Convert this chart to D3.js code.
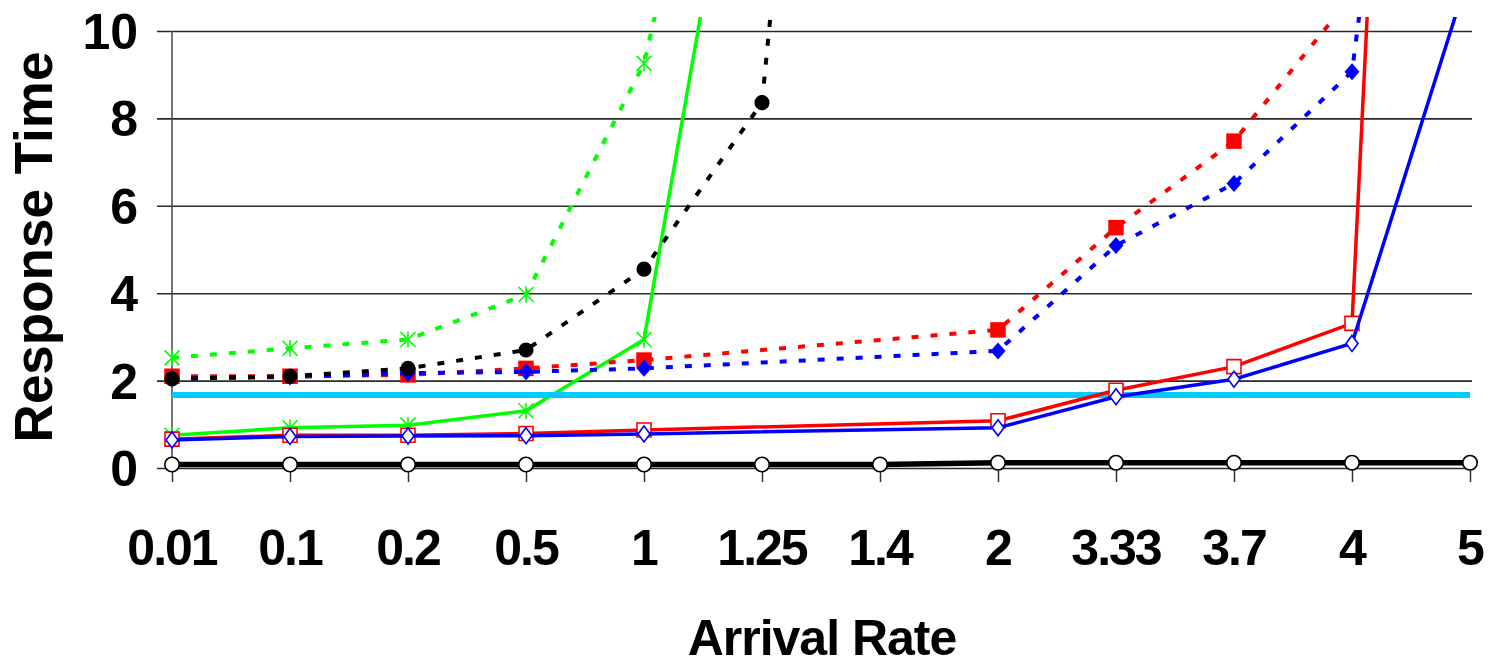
<!DOCTYPE html>
<html>
<head>
<meta charset="utf-8">
<script src="https://cdn.jsdelivr.net/npm/d3@7"></script>
<style>
  body { margin: 0; background: #fff; }
  text { font-family: "Liberation Sans", Arial, sans-serif; font-weight: bold; fill: #000; }
</style>
</head>
<body>
<svg id="chart" width="1492" height="665"></svg>
<script>
// arrival rates (categories on the x axis)
var categories = ["0.01", "0.1", "0.2", "0.5", "1", "1.25", "1.4", "2", "3.33", "3.7", "4", "5"];
var yTicks = [0, 2, 4, 6, 8, 10];

// response times, null = no point for that rate
var greenDashed = [2.52, 2.74, 2.94, 3.97, 9.26, 21, null, null, null, null, null, null];
var greenSolid  = [0.75, 0.92, 0.98, 1.31, 2.94, 18.4, null, null, null, null, null, null];
var blackDotted = [2.04, 2.1, 2.28, 2.7, 4.55, 8.36, 36, null, null, null, null, null];
var redDotted   = [2.1, 2.1, 2.13, 2.28, 2.47, null, null, 3.16, 5.5, 7.48, 10.8, null];
var blueDotted  = [2.05, 2.08, 2.17, 2.2, 2.28, null, null, 2.68, 5.09, 6.51, 9.07, 30];
var redSolid    = [0.66, 0.75, 0.75, 0.79, 0.87, null, null, 1.08, 1.78, 2.32, 3.31, 58];
var blueSolid   = [0.64, 0.72, 0.73, 0.74, 0.78, null, null, 0.92, 1.63, 2.03, 2.85, 11.4];
var cyanLevel   = [1.67, 1.67, 1.67, 1.67, 1.67, 1.67, 1.67, 1.67, 1.67, 1.67, 1.67, 1.67];
var blackBase   = [0.08, 0.08, 0.08, 0.08, 0.08, 0.08, 0.08, 0.12, 0.12, 0.12, 0.12, 0.12];

var svg = d3.select("#chart");

var x = d3.scalePoint().domain(categories).range([172, 1470]).padding(0);
var y = d3.scaleLinear().domain([0, 10]).range([468, 31]);

// custom marker shapes
var star = {
    draw: function(ctx, size) {
        var r = Math.sqrt(size) / 2;
        ctx.moveTo(-r, -r); ctx.lineTo(r, r);
        ctx.moveTo(-r, r); ctx.lineTo(r, -r);
        ctx.moveTo(0, -r * 1.1); ctx.lineTo(0, r * 1.1);
    }
};
function diamond(w, h) {
    return {
        draw: function(ctx) {
            ctx.moveTo(0, -h / 2); ctx.lineTo(w / 2, 0);
            ctx.lineTo(0, h / 2); ctx.lineTo(-w / 2, 0);
            ctx.closePath();
        }
    };
}

// gridlines + y ticks
svg.append("g")
    .attr("class", "grid")
    .attr("transform", "translate(172,0)")
    .call(d3.axisLeft(y).tickValues(yTicks).tickSize(-1300).tickSizeOuter(0).tickFormat(""))
    .call(function(g) {
        g.select(".domain").remove();
        g.selectAll(".tick line").attr("x1", -15).attr("stroke", "#2a2a2a").attr("stroke-width", 1.6);
    });

// y tick labels
svg.append("g")
    .selectAll("text")
    .data(yTicks)
    .enter()
    .append("text")
    .attr("x", 138)
    .attr("y", function(d) { return y(d) + 18; })
    .attr("text-anchor", "end")
    .attr("font-size", "50px")
    .text(function(d) { return d; });

// x axis ticks
svg.append("g")
    .attr("transform", "translate(0,468)")
    .call(d3.axisBottom(x).tickSize(14).tickSizeOuter(0).tickFormat(""))
    .call(function(g) {
        g.select(".domain").remove();
        g.selectAll(".tick line").attr("stroke", "#333").attr("stroke-width", 1.5);
    });

// vertical axis line
svg.append("line")
    .attr("x1", 172).attr("x2", 172)
    .attr("y1", y(10)).attr("y2", y(0))
    .attr("stroke", "#444")
    .attr("stroke-width", 1.5);

// x tick labels
svg.append("g")
    .selectAll("text")
    .data(categories)
    .enter()
    .append("text")
    .attr("x", function(d) { return x(d); })
    .attr("y", 565)
    .attr("text-anchor", "middle")
    .attr("font-size", "50px")
    .attr("letter-spacing", "-2px")
    .text(function(d) { return d; });

// axis titles
svg.append("text")
    .attr("x", 822)
    .attr("y", 655)
    .attr("text-anchor", "middle")
    .attr("font-size", "50px")
    .attr("letter-spacing", "-1px")
    .text("Arrival Rate");

svg.append("text")
    .attr("transform", "translate(52,247) rotate(-90)")
    .attr("text-anchor", "middle")
    .attr("font-size", "53px")
    .text("Response Time");

// clip the runaway curves just above the top gridline
svg.append("clipPath")
    .attr("id", "plotClip")
    .append("rect")
    .attr("x", 150).attr("y", 17)
    .attr("width", 1342).attr("height", 500);

var plot = svg.append("g").attr("clip-path", "url(#plotClip)");

var line = d3.line()
    .x(function(d) { return x(d.cat); })
    .y(function(d) { return y(d.v); });

function points(values) {
    return values.map(function(v, i) { return { cat: categories[i], v: v }; })
        .filter(function(d) { return d.v !== null; });
}

var series = [
    { values: greenSolid,  color: "#00ff00", width: 3.5, dash: null,   shape: star, size: 225, fill: "none", sw: 1.6 },
    { values: cyanLevel,   color: "#00ccff", width: 6,   dash: null,   shape: null },
    { values: redSolid,    color: "#ff0000", width: 3.5, dash: null,   shape: d3.symbolSquare, size: 196, fill: "#fff", sw: 1.6 },
    { values: blueSolid,   color: "#0000ff", width: 3.5, dash: null,   shape: diamond(12, 16), fill: "#fff", sw: 1.6 },
    { values: redDotted,   color: "#ff0000", width: 4,   dash: "7,12", shape: d3.symbolSquare, size: 240, fill: "#ff0000", sw: 0 },
    { values: blueDotted,  color: "#0000ff", width: 4,   dash: "7,12", shape: diamond(15, 17), fill: "#0000ff", sw: 0 },
    { values: blackDotted, color: "#000000", width: 4,   dash: "7,12", shape: d3.symbolCircle, size: 180, fill: "#000", sw: 0 },
    { values: greenDashed, color: "#00ff00", width: 4,   dash: "7,12", shape: star, size: 225, fill: "none", sw: 1.6 },
    { values: blackBase,   color: "#000000", width: 5.5, dash: null,   shape: d3.symbolCircle, size: 165, fill: "#fff", sw: 1.6 }
];

series.forEach(function(s) {
    var pts = points(s.values);
    var path = plot.append("path")
        .datum(pts)
        .attr("d", line)
        .attr("fill", "none")
        .attr("stroke", s.color)
        .attr("stroke-width", s.width);
    if (s.dash) path.attr("stroke-dasharray", s.dash);
    if (!s.shape) return;

    plot.append("g")
        .selectAll("path")
        .data(pts)
        .enter()
        .append("path")
        .attr("transform", function(d) { return "translate(" + x(d.cat) + "," + y(d.v) + ")"; })
        .attr("d", d3.symbol().type(s.shape).size(s.size || 100))
        .attr("fill", s.fill)
        .attr("stroke", s.sw ? s.color : "none")
        .attr("stroke-width", s.sw);
});
</script>
</body>
</html>
